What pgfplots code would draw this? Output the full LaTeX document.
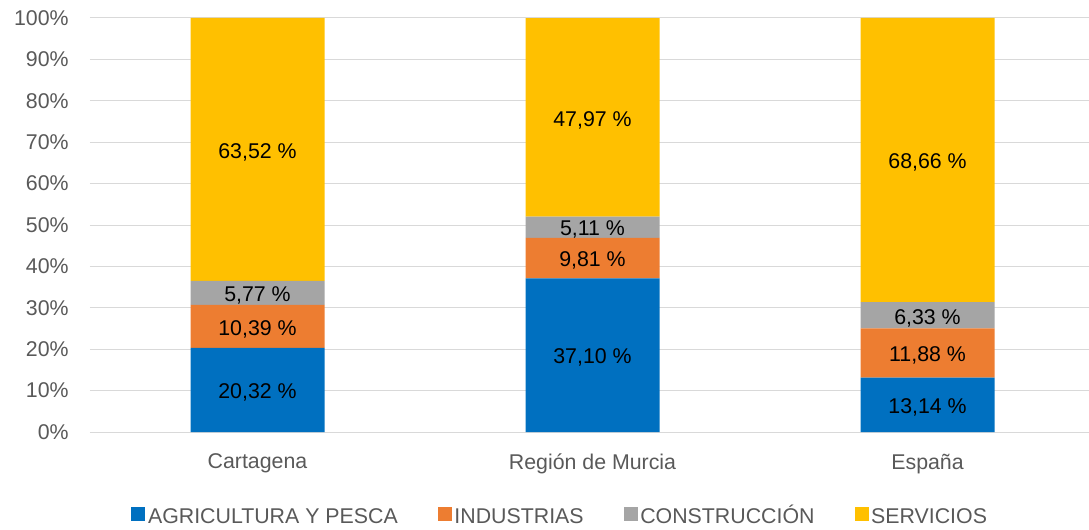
\documentclass[border=0pt]{standalone}
\usepackage{pgfplots}
\pgfplotsset{compat=1.18}
\usepackage{fontspec}
\setmainfont{Liberation Sans}

\definecolor{agri}{HTML}{0070C0}
\definecolor{ind}{HTML}{ED7D31}
\definecolor{cons}{HTML}{A5A5A5}
\definecolor{serv}{HTML}{FFC000}
\definecolor{txtgray}{HTML}{595959}
\definecolor{gridgray}{HTML}{D9D9D9}

\begin{document}
\begin{tikzpicture}[font=\fontsize{16}{19}\selectfont]
\begin{axis}[
  name=ax,
  scale only axis, width=749.25pt, height=310.5pt,
  ybar stacked, bar width=100.5pt,
  clip=false,
  xmin=-0.5, xmax=2.482, ymin=0, ymax=100,
  xtick={0,1,2},
  xticklabels={Cartagena, Región de Murcia, España},
  ytick={0,10,...,100},
  yticklabel={\pgfmathprintnumber{\tick}\%},
  /pgf/number format/assume math mode=true,
  ymajorgrids, grid style={gridgray, line width=0.75pt},
  axis line style={draw=none},
  tick style={draw=none},
  tick label style={text=txtgray},
  yticklabel style={xshift=-12.5pt},
  xticklabel style={yshift=-13pt},
  point meta=rawy,
  nodes near coords={\pgfmathprintnumber[fixed,fixed zerofill,precision=2,use comma]{\pgfplotspointmeta}~\%},
  every node near coord/.append style={anchor=center, text=black, yshift=-2pt},
  legend style={at={(0.471,-0.206)}, anchor=center, legend columns=-1,
    draw=none, fill=none, text=txtgray,
    nodes={text height=12pt, text depth=3pt},
    /tikz/every even column/.append style={column sep=28pt}},
  legend image code/.code={\fill[#1] (0pt,-2.6pt) rectangle (10.5pt,7.9pt);},
]
\addplot[fill=agri, draw=none] coordinates {(0,20.32) (1,37.10) (2,13.14)};
\addplot[fill=ind, draw=none] coordinates {(0,10.39) (1,9.81) (2,11.88)};
\addplot[fill=cons, draw=none] coordinates {(0,5.77) (1,5.11) (2,6.33)};
\addplot[fill=serv, draw=none] coordinates {(0,63.52) (1,47.97) (2,68.66)};
\legend{AGRICULTURA Y PESCA, INDUSTRIAS, CONSTRUCCIÓN, SERVICIOS}
\end{axis}
\pgfresetboundingbox
\path ([xshift=-67.5pt,yshift=-72.75pt]ax.south west) rectangle ([yshift=13.5pt]ax.north east);
\end{tikzpicture}
\end{document}
